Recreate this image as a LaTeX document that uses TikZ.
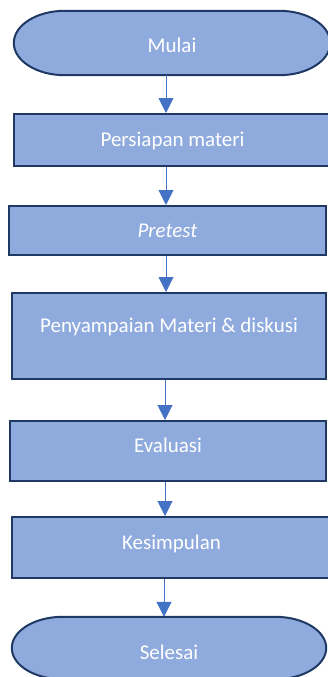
\documentclass[tikz,border=0pt]{standalone}
\usepackage{fontspec}
\setmainfont{Carlito}
\usetikzlibrary{arrows.meta,backgrounds,calc}
\definecolor{boxfill}{HTML}{8FAADC}
\definecolor{boxline}{HTML}{1F3864}
\definecolor{arrowc}{HTML}{4472C4}
\begin{document}
\begin{tikzpicture}[x=1pt,y=1pt,
  every node/.style={font=\fontsize{21}{25}\selectfont, text=white},
  procbox/.style={draw=boxline, fill=boxfill, line width=2pt, rectangle, inner sep=0pt},
  termbox/.style={rectangle, inner sep=0pt},
  termshape/.style={draw=boxline, fill=boxfill, line width=2pt},
  arr/.style={draw=arrowc, line width=1pt, -{Triangle[length=15pt,width=15pt]}}]
\useasboundingbox (0,0) rectangle (327,-677);
\node[termbox, minimum width=316pt, minimum height=64pt, text height=20pt, text depth=1.4pt] (start) at (172,-43) {Mulai};
\node[procbox, minimum width=317pt, minimum height=52pt, text height=20pt, text depth=6.6pt] (prep) at (172.5,-140) {Persiapan materi};
\node[procbox, minimum width=317pt, minimum height=49pt, text height=20pt, text depth=6.4pt] (pre) at (167.5,-230.5) {\itshape Pretest};
\node[procbox, minimum width=314pt, minimum height=86pt, text height=20pt, text depth=27.4pt] (mat) at (169,-336) {Penyampaian Materi \& diskusi};
\node[procbox, minimum width=316pt, minimum height=60pt, text height=20pt, text depth=16.6pt] (eval) at (168,-451) {Evaluasi};
\node[procbox, minimum width=319pt, minimum height=61pt, text height=20pt, text depth=16.4pt] (kes) at (171.5,-547.5) {Kesimpulan};
\node[termbox, minimum width=314pt, minimum height=62pt, text height=24pt, text depth=1.4pt] (end) at (169,-648) {Selesai};
\begin{scope}[on background layer]
\foreach \nd in {start,end}{
  \draw[termshape] let \p1=(\nd.north west), \p2=(\nd.south east) in
    (\x1+51pt,\y1) -- (\x2-51pt,\y1)
    arc[start angle=90,end angle=-90,x radius=51pt,y radius={(\y1-\y2)/2}]
    -- (\x1+51pt,\y2)
    arc[start angle=270,end angle=90,x radius=51pt,y radius={(\y1-\y2)/2}]
    -- cycle;
}
\end{scope}
\coordinate (axa) at (166,0);
\coordinate (axb) at (165,0);
\coordinate (axc) at (164,0);
\draw[arr] (start.south -| axa) -- (prep.north -| axa);
\draw[arr] (prep.south -| axa) -- (pre.north -| axa);
\draw[arr] (pre.south -| axa) -- (mat.north -| axa);
\draw[arr] (mat.south -| axb) -- (eval.north -| axb);
\draw[arr] (eval.south -| axb) -- (kes.north -| axb);
\draw[arr] (kes.south -| axc) -- (end.north -| axc);
\end{tikzpicture}
\end{document}
